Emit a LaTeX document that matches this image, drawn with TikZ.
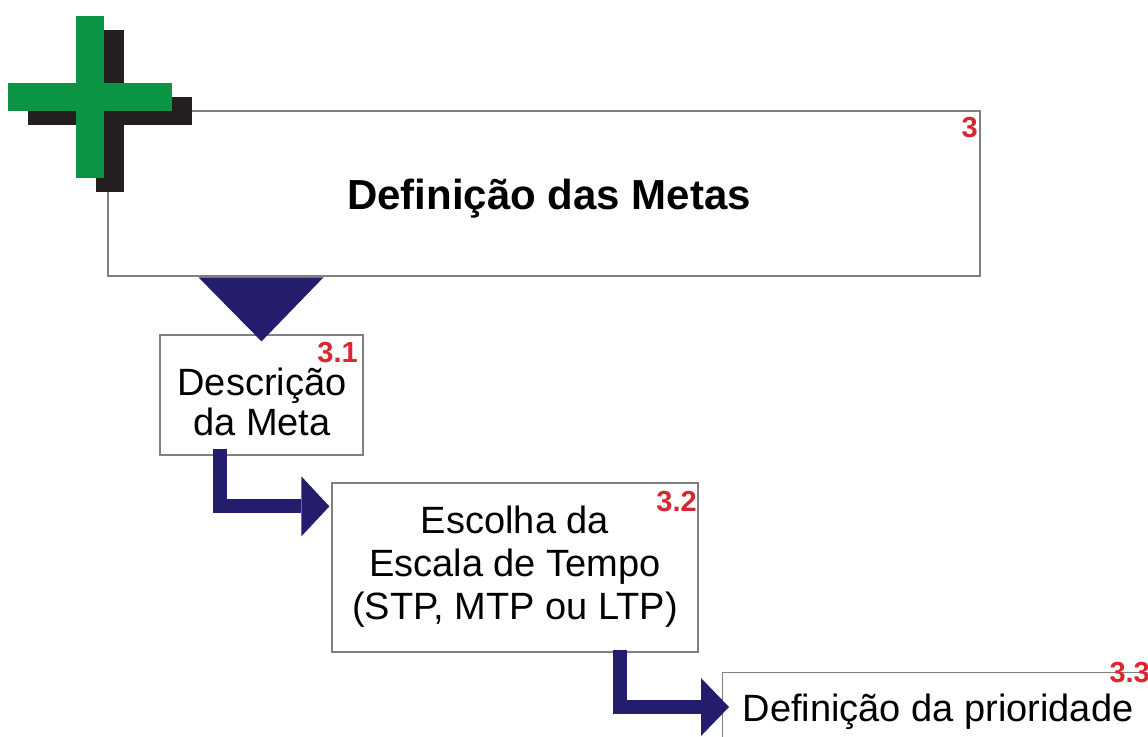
\documentclass[tikz,border=0pt]{standalone}
\usepackage{fontspec}
\setmainfont{Liberation Sans}
\usetikzlibrary{calc}
\definecolor{navyc}{HTML}{241C6C}
\definecolor{greenc}{HTML}{0B9444}
\definecolor{shadowc}{HTML}{231F20}
\definecolor{redc}{HTML}{D7282F}
\definecolor{borderc}{HTML}{808080}
\tikzset{
  stepbox/.style={draw=borderc, line width=1.3pt, fill=white, inner sep=0pt, rectangle},
  bodytext/.style={font=\fontsize{38}{40}\selectfont, text=black, inner sep=0pt, align=center},
  widetext/.style={font=\fontsize{38}{43}\selectfont, text=black, inner sep=0pt, align=center},
  titletext/.style={font=\bfseries\fontsize{42}{44}\selectfont, text=black, inner sep=0pt},
  numlabel/.style={font=\bfseries\fontsize{29}{30}\selectfont, text=redc, inner sep=0pt},
  flow/.style={draw=navyc, line width=14pt, line cap=butt, line join=miter},
  flowhead/.style={fill=navyc},
}
\begin{document}
\begin{tikzpicture}[x=1pt,y=-1pt]
\useasboundingbox (0,0) rectangle (1148,736);
\clip (0,0) rectangle (1148,736);
\fill[white] (0,0) rectangle (1148,736);

% boxes
\node[stepbox, minimum width=872pt, minimum height=165pt] (main) at (544,193.5) {};
\node[stepbox, minimum width=203pt, minimum height=120pt] (d31) at (261.5,395) {};
\node[stepbox, minimum width=366pt, minimum height=169pt] (d32) at (515,567.5) {};
\node[stepbox, minimum width=460pt, minimum height=120pt, anchor=north west] (d33) at (722,672) {};

% cross logo
\fill[shadowc] (96,30) rectangle (124,192);
\fill[shadowc] (28,97) rectangle (192,125);
\fill[greenc] (76,16) rectangle (104,178);
\fill[greenc] (8,83) rectangle (172,111);

% texts
\node[titletext, anchor=base] (t0) at (549,209) {Definição das Metas};
\node[numlabel, anchor=base east] (n0) at (978,137) {3};

\node[bodytext] (t1) at (262,402) {Descrição\\da Meta};
\node[numlabel, anchor=base east] (n1) at (358,362) {3.1};

\node[widetext] (t2) at (515,567) {Escolha da\\Escala de Tempo\\(STP, MTP ou LTP)};
\node[numlabel, anchor=base east] (n2) at (697,511) {3.2};

\node[bodytext, anchor=base] (t3) at (938,721) {Definição da prioridade};
\node[numlabel, anchor=base east] (n3) at (1150,682) {3.3};

% connectors
\fill[navyc] ($(d31.north)+(-63,-57)$) -- ($(d31.north)+(62,-57)$) -- ($(d31.north)+(0,7)$) -- cycle;

\coordinate (a1s) at ($(d31.south)+(-42,-7)$);
\coordinate (a1t) at ($(d32.north west)+(-2,24)$);
\draw[flow] (a1s) |- ($(a1t)+(-28,0)$);
\fill[flowhead] ($(a1t)+(-28,-30)$) -- (a1t) -- ($(a1t)+(-28,30)$) -- cycle;

\coordinate (a2s) at ($(d32.south)+(104.5,-3)$);
\coordinate (a2t) at ($(d33.north west)+(7,35)$);
\draw[flow] (a2s) |- ($(a2t)+(-28,0)$);
\fill[flowhead] ($(a2t)+(-28,-29)$) -- (a2t) -- ($(a2t)+(-28,29)$) -- cycle;
\end{tikzpicture}
\end{document}
